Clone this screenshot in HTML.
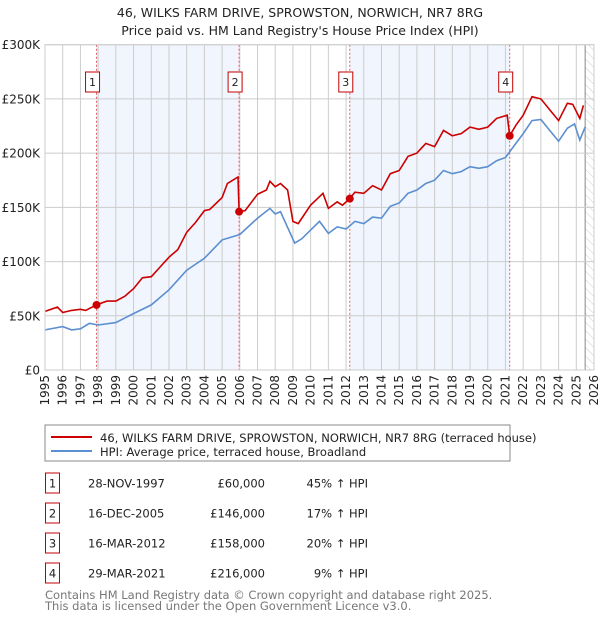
<!DOCTYPE html>
<html><head><meta charset="utf-8"><style>
body{margin:0;background:#fff;font-family:"Liberation Sans","DejaVu Sans",sans-serif;}
svg text{font-family:"DejaVu Sans","Liberation Sans",sans-serif;}
</style></head><body>
<svg id="c" width="600" height="620" xmlns="http://www.w3.org/2000/svg">
<defs><pattern id="hatch" width="6" height="6" patternUnits="userSpaceOnUse" patternTransform="rotate(-45)"><line x1="0" y1="0" x2="0" y2="6" stroke="#ccc" stroke-width="1"/></pattern></defs>
<text x="300" y="17" text-anchor="middle" font-size="12.5" fill="#222">46, WILKS FARM DRIVE, SPROWSTON, NORWICH, NR7 8RG</text>
<text x="300" y="35" text-anchor="middle" font-size="12.5" fill="#222">Price paid vs. HM Land Registry's House Price Index (HPI)</text>
<g id="plot"></g>
<rect x="45" y="425" width="465" height="36" fill="#fff" stroke="#888"/>
<line x1="51" y1="437" x2="92" y2="437" stroke="#cc0000" stroke-width="2"/>
<text x="100" y="442" font-size="11.5" fill="#222">46, WILKS FARM DRIVE, SPROWSTON, NORWICH, NR7 8RG (terraced house)</text>
<line x1="51" y1="451" x2="92" y2="451" stroke="#5b8fd0" stroke-width="2"/>
<text x="100" y="456" font-size="11.5" fill="#222">HPI: Average price, terraced house, Broadland</text>
<g id="table" font-size="11.5" fill="#222"></g>
<text x="45" y="599" font-size="11.5" fill="#777">Contains HM Land Registry data © Crown copyright and database right 2025.</text>
<text x="45" y="610" font-size="11.5" fill="#777">This data is licensed under the Open Government Licence v3.0.</text>
</svg>
<script>
const hpiYears=[1995,1996,1996.5,1997,1997.5,1998,1999,2000,2001,2002,2003,2004,2005,2006,2007,2007.7,2008,2008.3,2009.1,2009.5,2010,2010.5,2011,2011.5,2012,2012.5,2013,2013.5,2014,2014.5,2015,2015.5,2016,2016.5,2017,2017.5,2018,2018.5,2019,2019.5,2020,2020.5,2021,2021.5,2022,2022.5,2023,2023.5,2024,2024.5,2024.9,2025.2,2025.5];
const hpiValues=[37,40,37,38,43,41.5,43.7,52,60,74,92,103,120,125,140,149,144,146,117,121,129,137,126,132,130,137,135,141,140,151,154,163,166,172,175,184,181,183,187.5,186,187.5,193,196,207,218,230,231,221,211,223,227,212,224];
const propYears=[1995,1995.7,1996,1996.5,1997,1997.3,1997.9,1998.5,1999,1999.5,2000,2000.5,2001,2001.5,2002,2002.5,2003,2003.5,2004,2004.3,2005,2005.3,2005.5,2005.9,2005.96,2006.3,2007,2007.5,2007.7,2008,2008.3,2008.7,2009,2009.3,2010,2010.7,2011,2011.5,2011.8,2012.2,2012.5,2013,2013.5,2014,2014.5,2015,2015.5,2016,2016.5,2017,2017.5,2018,2018.5,2019,2019.5,2020,2020.5,2021.1,2021.24,2021.6,2022,2022.5,2023,2023.5,2024,2024.5,2024.8,2025.2,2025.4];
const propValues=[54,58,53,55,56,55,60,63.5,63.5,68,75,85,86,95,104,111,127,136,147,148,159,172,174,178,146,147,162,166,174,169,172,166,137,135,152,163,149,155,152,158,164,163,170,166,181,184,197,200,209,206,221,216,218,224,222,224,232,235,216,226,235,252,250,240,230,246,245,232,244];
const saleYears=[1997.91,2005.96,2012.21,2021.24];
const saleValues=[60,146,158,216];
const saleLabels=["1","2","3","4"];
const saleDates=["28-NOV-1997","16-DEC-2005","16-MAR-2012","29-MAR-2021"];
const salePrices=["£60,000","£146,000","£158,000","£216,000"];
const saleDiffs=["45% ↑ HPI","17% ↑ HPI","20% ↑ HPI","9% ↑ HPI"];
const yTicks=[0,50,100,150,200,250,300];
const yTickLabels=["£0","£50K","£100K","£150K","£200K","£250K","£300K"];
const xTicks=[1995,1996,1997,1998,1999,2000,2001,2002,2003,2004,2005,2006,2007,2008,2009,2010,2011,2012,2013,2014,2015,2016,2017,2018,2019,2020,2021,2022,2023,2024,2025,2026];

const X0=45,X1=594,Y0=370,Y1=44.7;
const xs=y=>X0+(y-1995)/(2026-1995)*(X1-X0);
const ys=v=>Y0-v/300*(Y0-Y1);
const NS="http://www.w3.org/2000/svg";
const g=document.getElementById('plot');
function mk(t,a,p){const e=document.createElementNS(NS,t);for(const k in a)e.setAttribute(k,a[k]);(p||g).appendChild(e);return e;}
let e;
e=mk('rect',{x:X0,y:Y1,width:X1-X0,height:Y0-Y1,fill:'#fff'});


for(const [a,b] of [[0,1],[2,3]]){
 e=mk('rect',{x:xs(saleYears[a]),y:Y1,width:xs(saleYears[b])-xs(saleYears[a]),height:Y0-Y1,fill:'#f1f5fd'});
 
 
}
e=mk('rect',{x:xs(2025.5),y:Y1,width:X1-xs(2025.5),height:Y0-Y1,fill:'url(#hatch)'});


mk('line',{x1:xs(2025.5),x2:xs(2025.5),y1:Y1,y2:Y0,stroke:'#888','stroke-width':1});
xTicks.forEach(t=>{
 e=mk('line',{x1:xs(t),x2:xs(t),y1:Y1,y2:Y0,stroke:'#ccc','stroke-width':1});
 
 
 const x=xs(t)+4;
 e=mk('text',{x:x,y:375,transform:`rotate(-90 ${x} 375)`,'text-anchor':'end','font-size':12,fill:'#222'});
 e.textContent=t;
 
 
});
yTicks.forEach((t,i)=>{
 e=mk('line',{x1:X0,x2:X1,y1:ys(t),y2:ys(t),stroke:'#ccc','stroke-width':1});
 
 
 e=mk('text',{x:40,y:ys(t)+4.5,'text-anchor':'end','font-size':12,fill:'#222'});
 e.textContent=yTickLabels[i];
 
 
});
saleYears.forEach((s,i)=>{
 e=mk('line',{x1:xs(s),x2:xs(s),y1:Y1,y2:Y0,stroke:'#e06060','stroke-width':1,'stroke-dasharray':'2,2'});
 
 
 e=mk('rect',{x:xs(s)-11,y:72,width:14,height:20,fill:'#fff',stroke:'#c00000'});
 
 
 e=mk('text',{x:xs(s)-4,y:86,'text-anchor':'middle','font-size':11,fill:'#222'});
 e.textContent=saleLabels[i];
 
 
});
const path=(xa,va)=>xa.map((y,i)=>(i?'L':'M')+xs(y).toFixed(1)+','+ys(va[i]).toFixed(1)).join(' ');
e=mk('path',{d:path(hpiYears,hpiValues),fill:'none',stroke:'#5b8fd0','stroke-width':1.6});


e=mk('path',{d:path(propYears,propValues),fill:'none',stroke:'#cc0000','stroke-width':1.6});


saleYears.forEach((s,i)=>{
 e=mk('circle',{cx:xs(s),cy:ys(saleValues[i]),r:4,fill:'#cc0000'});
 
 
});
e=mk('rect',{x:X0,y:Y1,width:X1-X0,height:Y0-Y1,fill:'none',stroke:'#ccc'});
const tb=document.getElementById('table');
saleLabels.forEach((l,i)=>{
 const y=473+i*30;
 e=mk('rect',{x:45.5,y:y,width:14,height:20,fill:'#fff',stroke:'#c00000'},tb);
 
 
 e=mk('text',{x:52.5,y:y+14.5,'text-anchor':'middle'},tb);e.textContent=l;
 
 
 e=mk('text',{x:88,y:y+14.5},tb);e.textContent=saleDates[i];
 
 
 e=mk('text',{x:265,y:y+14.5,'text-anchor':'end'},tb);e.textContent=salePrices[i];
 
 
 e=mk('text',{x:368,y:y+14.5,'text-anchor':'end'},tb);e.textContent=saleDiffs[i];
 
 
});
</script>
</body></html>
